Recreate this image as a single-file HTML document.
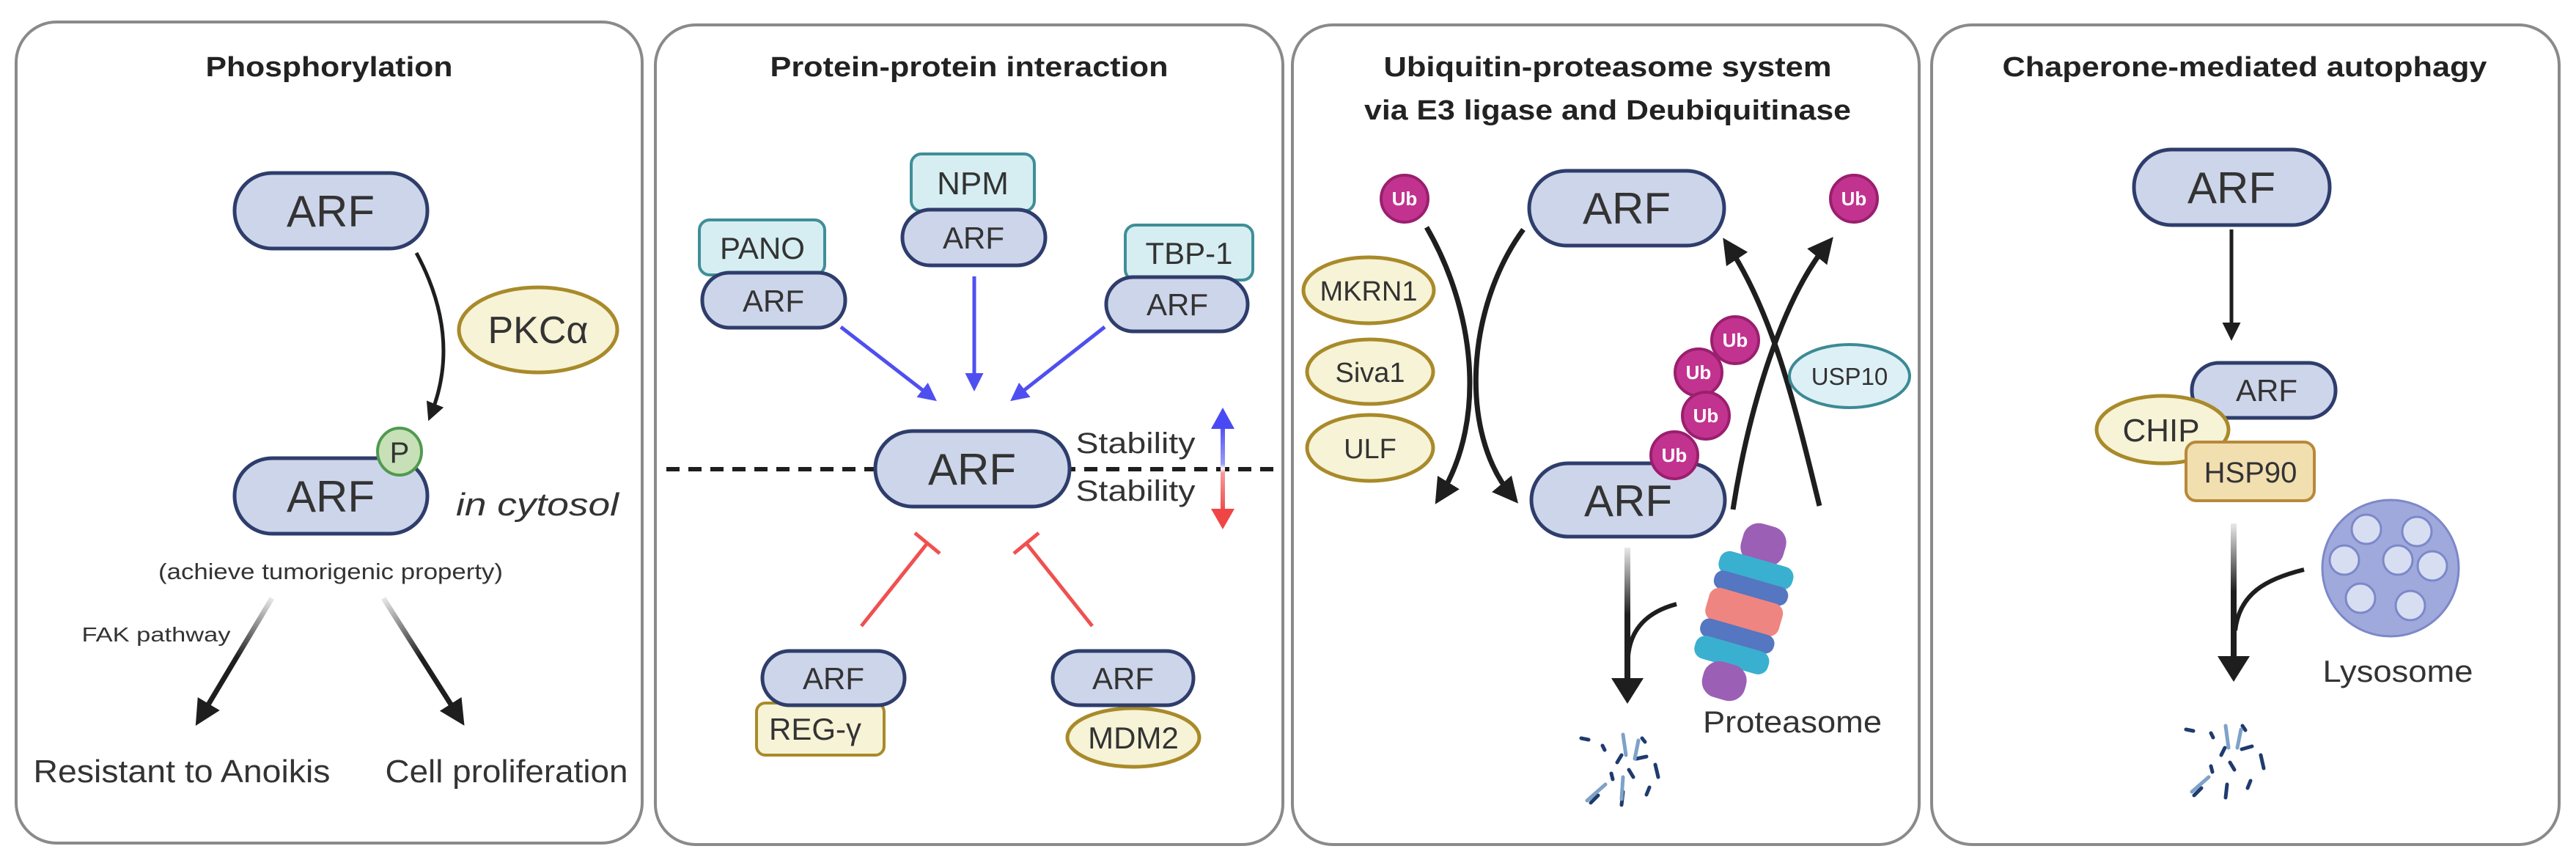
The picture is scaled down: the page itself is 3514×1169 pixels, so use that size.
<!DOCTYPE html>
<html><head><meta charset="utf-8"><style>
html,body{margin:0;padding:0;background:#fff}
svg{display:block}
text{font-family:"Liberation Sans",sans-serif;fill:#333}
.t{font-weight:bold;font-size:38px;fill:#222}
.pill{fill:#cdd5ea;stroke:#2e3d6b;stroke-width:5}
.yel{fill:#f6f3d6;stroke:#a98a2a;stroke-width:5}
.teal{fill:#d6eef1;stroke:#3f8e97;stroke-width:4}
.ub{fill:#c2338f;stroke:#9a1f6f;stroke-width:4}
.ubt{fill:#fff;font-weight:bold;font-size:26px}
.blk{stroke:#1e1e1e;stroke-width:7;fill:none}
</style></head><body>
<svg width="3514" height="1169" viewBox="0 0 3514 1169" xmlns="http://www.w3.org/2000/svg">
<defs>
<marker id="ah" viewBox="0 0 10 10" refX="6" refY="5" markerWidth="5" markerHeight="5" orient="auto"><path d="M0,0L10,5L0,10z" fill="#1e1e1e"/></marker>
<marker id="ahb" viewBox="0 0 10 10" refX="6" refY="5" markerWidth="5" markerHeight="5" orient="auto"><path d="M0,0L10,5L0,10z" fill="#4f4ff0"/></marker>
<linearGradient id="g1" gradientUnits="userSpaceOnUse" x1="371" y1="816" x2="274" y2="978"><stop offset="0" stop-color="#1e1e1e" stop-opacity="0.1"/><stop offset="0.5" stop-color="#1e1e1e"/></linearGradient>
<linearGradient id="g2" gradientUnits="userSpaceOnUse" x1="523" y1="816" x2="626" y2="978"><stop offset="0" stop-color="#1e1e1e" stop-opacity="0.1"/><stop offset="0.5" stop-color="#1e1e1e"/></linearGradient>
<linearGradient id="g3" gradientUnits="userSpaceOnUse" x1="0" y1="747" x2="0" y2="930"><stop offset="0" stop-color="#1e1e1e" stop-opacity="0.1"/><stop offset="0.5" stop-color="#1e1e1e"/></linearGradient>
<linearGradient id="g4" gradientUnits="userSpaceOnUse" x1="0" y1="714" x2="0" y2="900"><stop offset="0" stop-color="#1e1e1e" stop-opacity="0.1"/><stop offset="0.5" stop-color="#1e1e1e"/></linearGradient>
<linearGradient id="stab" x1="0" y1="0" x2="0" y2="1"><stop offset="0" stop-color="#4a4af5"/><stop offset="0.45" stop-color="#9a9af8"/><stop offset="0.5" stop-color="#fff"/><stop offset="0.55" stop-color="#f59a9a"/><stop offset="1" stop-color="#f04545"/></linearGradient>
</defs>

<!-- panels -->
<g fill="none" stroke="#8a8a8a" stroke-width="4">
<rect x="22" y="30" width="854" height="1120" rx="55"/>
<rect x="894" y="34" width="856" height="1118" rx="55"/>
<rect x="1763" y="34" width="855" height="1118" rx="55"/>
<rect x="2635" y="34" width="856" height="1118" rx="55"/>
</g>

<!-- Panel 1 -->
<text class="t" x="449" y="104" text-anchor="middle" textLength="337" lengthAdjust="spacingAndGlyphs">Phosphorylation</text>
<rect class="pill" x="320" y="236" width="263" height="103" rx="51"/>
<text x="451" y="309" text-anchor="middle" font-size="60">ARF</text>
<path class="blk" d="M568,345 Q630,460 588,565" marker-end="url(#ah)" style="stroke-width:5"/>
<ellipse class="yel" cx="734" cy="450" rx="108" ry="58"/>
<text x="734" y="468" text-anchor="middle" font-size="52">PKCα</text>
<rect class="pill" x="320" y="625" width="263" height="103" rx="51"/>
<text x="451" y="698" text-anchor="middle" font-size="60">ARF</text>
<ellipse cx="545" cy="616" rx="30" ry="32" fill="#c7e0b8" stroke="#4f9a4f" stroke-width="4"/>
<text x="545" y="631" text-anchor="middle" font-size="40">P</text>
<text x="733" y="703" text-anchor="middle" font-size="44" font-style="italic" textLength="222" lengthAdjust="spacingAndGlyphs">in cytosol</text>
<text x="451" y="790" text-anchor="middle" font-size="31" textLength="470" lengthAdjust="spacingAndGlyphs">(achieve tumorigenic property)</text>
<path d="M371,816 L274,978" stroke="url(#g1)" stroke-width="7" fill="none" marker-end="url(#ah)"/>
<path d="M523,816 L626,978" stroke="url(#g2)" stroke-width="7" fill="none" marker-end="url(#ah)"/>
<text x="213" y="875" text-anchor="middle" font-size="28" textLength="203" lengthAdjust="spacingAndGlyphs">FAK pathway</text>
<text x="248" y="1067" text-anchor="middle" font-size="44" textLength="405" lengthAdjust="spacingAndGlyphs">Resistant to Anoikis</text>
<text x="691" y="1067" text-anchor="middle" font-size="44" textLength="331" lengthAdjust="spacingAndGlyphs">Cell proliferation</text>

<!-- Panel 2 -->
<text class="t" x="1322" y="104" text-anchor="middle" textLength="543" lengthAdjust="spacingAndGlyphs">Protein-protein interaction</text>
<rect class="teal" x="1243" y="210" width="168" height="78" rx="14"/>
<text x="1327" y="265" text-anchor="middle" font-size="44">NPM</text>
<rect class="pill" x="1231" y="286" width="195" height="76" rx="38"/>
<text x="1328" y="339" text-anchor="middle" font-size="42">ARF</text>
<rect class="teal" x="954" y="300" width="171" height="75" rx="14"/>
<text x="1040" y="353" text-anchor="middle" font-size="42">PANO</text>
<rect class="pill" x="958" y="372" width="195" height="75" rx="37"/>
<text x="1055" y="425" text-anchor="middle" font-size="42">ARF</text>
<rect class="teal" x="1535" y="307" width="174" height="75" rx="14"/>
<text x="1622" y="360" text-anchor="middle" font-size="42">TBP-1</text>
<rect class="pill" x="1509" y="378" width="193" height="74" rx="37"/>
<text x="1606" y="430" text-anchor="middle" font-size="42">ARF</text>
<g stroke="#4f4ff0" stroke-width="5" fill="none">
<path d="M1147,446 L1270,541" marker-end="url(#ahb)"/>
<path d="M1329,377 L1329,524" marker-end="url(#ahb)"/>
<path d="M1507,446 L1386,541" marker-end="url(#ahb)"/>
</g>
<line x1="909" y1="640" x2="1743" y2="640" stroke="#1e1e1e" stroke-width="6" stroke-dasharray="18,12"/>
<rect class="pill" x="1194" y="588" width="265" height="103" rx="51"/>
<text x="1326" y="661" text-anchor="middle" font-size="60">ARF</text>
<text x="1549" y="618" text-anchor="middle" font-size="40" textLength="163" lengthAdjust="spacingAndGlyphs">Stability</text>
<text x="1549" y="683" text-anchor="middle" font-size="40" textLength="163" lengthAdjust="spacingAndGlyphs">Stability</text>
<rect x="1665" y="578" width="6" height="122" fill="url(#stab)"/>
<path d="M1652,585 L1668,556 L1684,585z" fill="#4a4af5"/>
<path d="M1652,694 L1668,722 L1684,694z" fill="#f04545"/>
<g stroke="#f05050" stroke-width="5" fill="none">
<path d="M1175,854 L1265,741 M1248,727 L1282,755"/>
<path d="M1490,854 L1400,741 M1383,755 L1417,727"/>
</g>
<rect x="1032" y="959" width="174" height="71" rx="12" fill="#f6f3d6" stroke="#a98a2a" stroke-width="4"/>
<text x="1112" y="1009" text-anchor="middle" font-size="42">REG-γ</text>
<rect class="pill" x="1040" y="888" width="194" height="74" rx="37"/>
<text x="1137" y="940" text-anchor="middle" font-size="42">ARF</text>
<ellipse class="yel" cx="1546" cy="1006" rx="90" ry="40"/>
<text x="1546" y="1021" text-anchor="middle" font-size="42">MDM2</text>
<rect class="pill" x="1436" y="888" width="192" height="74" rx="37"/>
<text x="1532" y="940" text-anchor="middle" font-size="42">ARF</text>

<!-- Panel 3 -->
<text class="t" x="2193" y="104" text-anchor="middle" textLength="611" lengthAdjust="spacingAndGlyphs">Ubiquitin-proteasome system</text>
<text class="t" x="2193" y="163" text-anchor="middle" textLength="664" lengthAdjust="spacingAndGlyphs">via E3 ligase and Deubiquitinase</text>
<g class="blk">
<path d="M1946,310 C2010,420 2030,570 1965,676" marker-end="url(#ah)"/>
<path d="M2078,313 C2000,420 1990,590 2062,676" marker-end="url(#ah)"/>
<path d="M2364,695 C2385,560 2430,410 2492,334" marker-end="url(#ah)"/>
<path d="M2482,690 C2450,560 2420,430 2358,336" marker-end="url(#ah)"/>
</g>
<rect class="pill" x="2086" y="233" width="266" height="102" rx="51"/>
<text x="2219" y="305" text-anchor="middle" font-size="60">ARF</text>
<rect class="pill" x="2089" y="632" width="264" height="100" rx="50"/>
<text x="2221" y="704" text-anchor="middle" font-size="60">ARF</text>
<circle class="ub" cx="1916" cy="271" r="32"/><text class="ubt" x="1916" y="280" text-anchor="middle">Ub</text>
<circle class="ub" cx="2529" cy="271" r="32"/><text class="ubt" x="2529" y="280" text-anchor="middle">Ub</text>
<circle class="ub" cx="2367" cy="464" r="32"/><text class="ubt" x="2367" y="473" text-anchor="middle">Ub</text>
<circle class="ub" cx="2317" cy="508" r="32"/><text class="ubt" x="2317" y="517" text-anchor="middle">Ub</text>
<circle class="ub" cx="2327" cy="567" r="32"/><text class="ubt" x="2327" y="576" text-anchor="middle">Ub</text>
<circle class="ub" cx="2284" cy="621" r="32"/><text class="ubt" x="2284" y="630" text-anchor="middle">Ub</text>
<ellipse class="yel" cx="1867" cy="396" rx="89" ry="45"/><text x="1867" y="410" text-anchor="middle" font-size="38">MKRN1</text>
<ellipse class="yel" cx="1869" cy="507" rx="86" ry="44"/><text x="1869" y="521" text-anchor="middle" font-size="38">Siva1</text>
<ellipse class="yel" cx="1869" cy="611" rx="86" ry="45"/><text x="1869" y="625" text-anchor="middle" font-size="38">ULF</text>
<ellipse cx="2523" cy="513" rx="82" ry="43" fill="#ddf0f5" stroke="#3b8a95" stroke-width="4"/>
<text x="2523" y="525" text-anchor="middle" font-size="33">USP10</text>
<path d="M2220,747 L2220,930" stroke="url(#g3)" stroke-width="8" fill="none"/>
<path d="M2287,824 C2245,835 2224,860 2221,895" stroke="#1e1e1e" stroke-width="6" fill="none"/>
<path d="M2198,925 L2220,960 L2242,925z" fill="#1e1e1e"/>
<g transform="translate(2380,832) rotate(16)">
<rect x="-30" y="-120" width="60" height="55" rx="22" fill="#9b5fb5"/>
<rect x="-52" y="-72" width="104" height="32" rx="14" fill="#3ab0d0"/>
<rect x="-52" y="-44" width="104" height="26" rx="12" fill="#5576c0"/>
<rect x="-52" y="-20" width="104" height="46" rx="14" fill="#ef8580"/>
<rect x="-52" y="24" width="104" height="26" rx="12" fill="#5576c0"/>
<rect x="-52" y="48" width="104" height="32" rx="14" fill="#3ab0d0"/>
<rect x="-30" y="76" width="60" height="50" rx="22" fill="#9b5fb5"/>
</g>
<text x="2445" y="999" text-anchor="middle" font-size="42" textLength="244" lengthAdjust="spacingAndGlyphs">Proteasome</text>
<g stroke="#1f3b6e" stroke-width="5" stroke-linecap="round" fill="none">
<path d="M2157,1007 L2167,1009 M2186,1017 L2189,1023 M2240,1007 L2244,1012 M2212,1030 L2206,1040 M2232,1035 L2246,1032 M2258,1043 L2262,1060 M2198,1055 L2200,1063 M2222,1050 L2228,1060 M2250,1074 L2246,1084 M2180,1085 L2170,1095 M2214,1080 L2212,1098"/>
<path d="M2214,1002 L2218,1030 M2235,1010 L2230,1035 M2190,1070 L2165,1092 M2214,1060 L2212,1090" stroke="#7ea2c8"/>
</g>

<!-- Panel 4 -->
<text class="t" x="3062" y="104" text-anchor="middle" textLength="661" lengthAdjust="spacingAndGlyphs">Chaperone-mediated autophagy</text>
<rect class="pill" x="2911" y="204" width="267" height="103" rx="51"/>
<text x="3044" y="277" text-anchor="middle" font-size="60">ARF</text>
<path d="M3044,313 L3044,455" stroke="#1e1e1e" stroke-width="5" fill="none" marker-end="url(#ah)"/>
<rect class="pill" x="2990" y="495" width="196" height="75" rx="37"/>
<text x="3092" y="547" text-anchor="middle" font-size="42">ARF</text>
<ellipse class="yel" cx="2950" cy="586" rx="90" ry="46"/>
<text x="2948" y="602" text-anchor="middle" font-size="44">CHIP</text>
<rect x="2982" y="603" width="175" height="80" rx="14" fill="#f1dfb0" stroke="#b8893a" stroke-width="4"/>
<text x="3070" y="658" text-anchor="middle" font-size="40">HSP90</text>
<path d="M3047,714 L3047,900" stroke="url(#g4)" stroke-width="8" fill="none"/>
<path d="M3143,777 C3090,790 3055,810 3049,860" stroke="#1e1e1e" stroke-width="6" fill="none"/>
<path d="M3025,895 L3047,930 L3069,895z" fill="#1e1e1e"/>
<circle cx="3261" cy="775" r="93" fill="#9fa9dc" stroke="#7c88c8" stroke-width="3"/>
<g fill="#d8def2" stroke="#7c88c8" stroke-width="3">
<circle cx="3228" cy="722" r="20"/><circle cx="3297" cy="725" r="20"/><circle cx="3198" cy="764" r="20"/>
<circle cx="3271" cy="764" r="20"/><circle cx="3318" cy="772" r="20"/><circle cx="3220" cy="816" r="20"/><circle cx="3288" cy="826" r="20"/>
</g>
<text x="3271" y="930" text-anchor="middle" font-size="42" textLength="205" lengthAdjust="spacingAndGlyphs">Lysosome</text>
<g stroke="#1f3b6e" stroke-width="5" stroke-linecap="round" fill="none">
<path d="M2982,995 L2992,997 M3016,1000 L3019,1006 M3059,990 L3063,996 M3035,1020 L3030,1030 M3058,1022 L3072,1018 M3084,1030 L3088,1048 M3016,1045 L3018,1053 M3042,1040 L3048,1050 M3070,1065 L3066,1075 M3003,1075 L2993,1085 M3038,1070 L3036,1088"/>
<path d="M3036,990 L3040,1020 M3057,995 L3052,1020 M3013,1060 L2990,1080" stroke="#7ea2c8"/>
</g>
</svg>
</body></html>
